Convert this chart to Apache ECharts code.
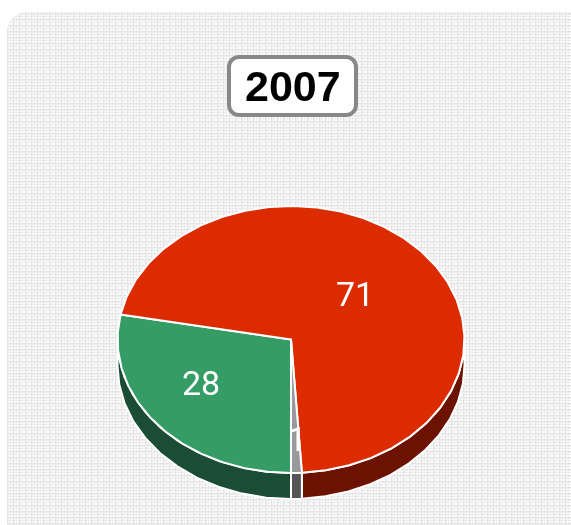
<!DOCTYPE html>
<html><head><meta charset="utf-8">
<style>html,body{margin:0;padding:0;background:#fff}#c{width:571px;height:525px}</style>
<script src="https://cdn.jsdelivr.net/npm/echarts@6/dist/echarts.min.js"></script>
</head><body><div id="c"></div>
<script>
const chartTitle = '2007';
const sliceNames = ['B', 'A', 'C'];
const sliceValues = [28, 71, 1];
const topColors = ['#359C66', '#DC2B00', '#999999'];
const sideColors = ['#1A4D33', '#6B1300', '#555555'];
const labelOffsets = [[-90, 47], [64, -42], [6, 103]];

const CX = 291, CY = 339.5, RX = 173.5, RY = 133.5, DEPTH = 26, STEP = 8;
const total = sliceValues.reduce((a, b) => a + b, 0);
const rad = d => d * Math.PI / 180;
const pt = (deg, dy) => [CX + RX * Math.cos(rad(deg)), CY + RY * Math.sin(rad(deg)) + (dy || 0)];
function arc(a0, a1, dy) {
  const pts = [];
  const n = Math.max(1, Math.round((a1 - a0) / STEP));
  for (let i = 0; i <= n; i++) pts.push(pt(a0 + (a1 - a0) * i / n, dy));
  return pts;
}
const starts = [];
let acc = 90;
sliceValues.forEach(v => { starts.push(acc); acc += v / total * 360; });

function frontRanges(a0, a1) {
  const out = [];
  for (let k = 0; k < 2; k++) {
    const lo = Math.max(a0, k * 360), hi = Math.min(a1, 180 + k * 360);
    if (hi > lo) out.push([lo, hi]);
  }
  return out;
}
function renderItem(params, api) {
  const i = params.dataIndex;
  const a0 = starts[i], a1 = a0 + api.value(0) / total * 360;
  const children = [];
  frontRanges(a0, a1).forEach(r => {
    const outer = arc(r[0], r[1], 0);
    const lower = arc(r[0], r[1], DEPTH).reverse();
    children.push({ type: 'polygon', z2: 1,
      shape: { points: outer.concat(lower) },
      style: { fill: sideColors[i], stroke: '#fff', lineWidth: 2 } });
  });
  children.push({ type: 'polygon', z2: 2 + i,
    shape: { points: [[CX, CY]].concat(arc(a0, a1, 0)) },
    style: { fill: topColors[i], stroke: '#fff', lineWidth: 2, lineJoin: 'round' } });
  children.push({ type: 'text', z2: 10,
    style: { text: String(api.value(0)), x: CX + labelOffsets[i][0], y: CY + labelOffsets[i][1],
      fill: '#fff', font: '34px Roboto, "Liberation Sans", Arial, sans-serif', align: 'center', verticalAlign: 'middle' } });
  return { type: 'group', children };
}

const tile = document.createElement('canvas');
tile.width = 6; tile.height = 6;
const g = tile.getContext('2d');
g.fillStyle = '#ffffff'; g.fillRect(0, 0, 6, 6);
g.fillStyle = '#ececec'; g.fillRect(0, 4, 6, 1); g.fillRect(4, 0, 1, 6);
g.fillStyle = '#e2e2e2'; g.fillRect(0, 1, 6, 1); g.fillRect(1, 0, 1, 6);
g.fillStyle = '#efefef'; g.fillRect(0, 2, 6, 1); g.fillRect(2, 0, 1, 6);

const chart = echarts.init(document.getElementById('c'), null, { renderer: 'canvas' });
chart.setOption({
  animation: false,
  backgroundColor: '#ffffff',
  title: {
    text: chartTitle, left: 229, top: 57,
    backgroundColor: '#fff', borderColor: '#888', borderWidth: 4, borderRadius: 10,
    padding: [8, 16, 2, 16],
    textStyle: { color: '#000', fontSize: 43, lineHeight: 48, fontWeight: 'bold', fontFamily: '"Liberation Sans", Arial, sans-serif' }
  },
  graphic: [{ type: 'rect', z: -1, silent: true,
    shape: { x: 7, y: 12, width: 600, height: 560, r: 20 },
    style: { fill: { image: tile, repeat: 'repeat' } } }],
  series: [{
    type: 'custom', coordinateSystem: 'none', renderItem, silent: true,
    data: sliceValues.map((v, i) => ({ name: sliceNames[i], value: [v] }))
  }]
});
</script></body></html>
